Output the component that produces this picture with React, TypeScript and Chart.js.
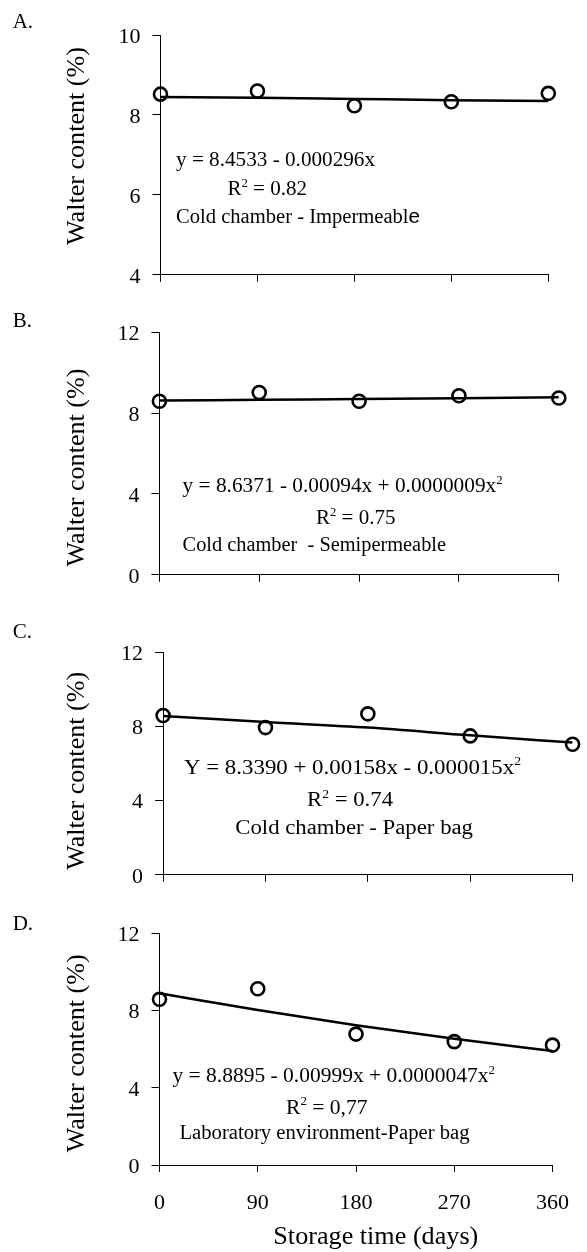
import React, { useEffect, useRef } from 'react';
import { Chart, registerables } from 'chart.js';

Chart.register(...registerables);

// ---------- data ----------
const days = [0, 90, 180, 270, 360];
const xTickLabels = ['0', '90', '180', '270', '360'];

const waterA = [8.52, 8.6, 8.23, 8.33, 8.54];
const fitA = [8.45, 8.43, 8.4, 8.37, 8.35];
const waterB = [8.59, 9.02, 8.59, 8.86, 8.75];
const fitB = [8.62, 8.66, 8.7, 8.74, 8.78];
const waterC = [8.59, 7.94, 8.68, 7.49, 7.04];
const fitC = [8.57, 8.24, 7.94, 7.52, 7.13];
const waterD = [8.58, 9.13, 6.78, 6.39, 6.21];
const fitD = [8.89, 8.03, 7.24, 6.54, 5.9];

const yTicksA = [4, 6, 8, 10];
const yTicksBCD = [0, 4, 8, 12];

const panelLabels = ['A.', 'B.', 'C.', 'D.'];
const yTitle = 'Walter content (%)';
const xTitle = 'Storage time (days)';

const eqA = 'y = 8.4533 - 0.000296x';
const eqB = 'y = 8.6371 - 0.00094x + 0.0000009x';
const eqC = 'Y = 8.3390 + 0.00158x - 0.000015x';
const eqD = 'y = 8.8895 - 0.00999x + 0.0000047x';
const r2A = ' = 0.82';
const r2B = ' = 0.75';
const r2C = ' = 0.74';
const r2D = ' = 0,77';
const capA = 'Cold chamber - Impermeabl';
const capB = 'Cold chamber  - Semipermeable';
const capC = 'Cold chamber - Paper bag';
const capD = 'Laboratory environment-Paper bag';

// ---------- styling / layout ----------
const SERIF = "'Liberation Serif', 'Times New Roman', serif";
const SANS = "'Liberation Sans', Arial, sans-serif";
const W = 587;
const Y_AXIS_W = 100;
const ANN_SIZE = 20;

type Seg = { t: string; sup?: boolean; sans?: boolean };
type Line = { segs: Seg[]; x: number; y: number; w: number };

type PanelCfg = {
  top: number; h: number;
  left: number; right: number; chartTop: number; chartBottom: number;
  yMin: number; yMax: number; yTicks: number[];
  water: number[]; fit: number[];
  showX: boolean; xAxisH: number;
  label: string; labelY: number;
  titleCY: number;
  lines: Line[];
};

const panels: PanelCfg[] = [
  {
    top: 0, h: 300, left: 160.5, right: 548.3, chartTop: 35, chartBottom: 283.3,
    yMin: 4, yMax: 10, yTicks: yTicksA, water: waterA, fit: fitA, showX: false, xAxisH: 15,
    label: panelLabels[0], labelY: 28.3, titleCY: 146,
    lines: [
      { segs: [{ t: eqA }], x: 176, y: 165.5, w: 199 },
      { segs: [{ t: 'R' }, { t: '2', sup: true }, { t: r2A }], x: 227.5, y: 195, w: 79.5 },
      { segs: [{ t: capA }, { t: 'e', sans: true }], x: 176, y: 222.7, w: 244 },
    ],
  },
  {
    top: 300, h: 300, left: 159.4, right: 558.8, chartTop: 332.3, chartBottom: 582.3,
    yMin: 0, yMax: 12, yTicks: yTicksBCD, water: waterB, fit: fitB, showX: false, xAxisH: 15,
    label: panelLabels[1], labelY: 326.7, titleCY: 467.5,
    lines: [
      { segs: [{ t: eqB }, { t: '2', sup: true }], x: 182.6, y: 492, w: 320 },
      { segs: [{ t: 'R' }, { t: '2', sup: true }, { t: r2B }], x: 316, y: 524, w: 79.6 },
      { segs: [{ t: capB }], x: 182.6, y: 551, w: 263.4 },
    ],
  },
  {
    top: 600, h: 300, left: 163.1, right: 572.6, chartTop: 652.3, chartBottom: 876.7,
    yMin: 0, yMax: 12, yTicks: yTicksBCD, water: waterC, fit: fitC, showX: false, xAxisH: 15,
    label: panelLabels[2], labelY: 638, titleCY: 770.8,
    lines: [
      { segs: [{ t: eqC }, { t: '2', sup: true }], x: 184, y: 773.5, w: 337 },
      { segs: [{ t: 'R' }, { t: '2', sup: true }, { t: r2C }], x: 307, y: 806, w: 86 },
      { segs: [{ t: capC }], x: 235.3, y: 834, w: 237.7 },
    ],
  },
  {
    top: 890, h: 362, left: 159.5, right: 563.6, chartTop: 933.3, chartBottom: 1165,
    yMin: 0, yMax: 12, yTicks: yTicksBCD, water: waterD, fit: fitD, showX: true, xAxisH: 62,
    label: panelLabels[3], labelY: 930, titleCY: 1053.3,
    lines: [
      { segs: [{ t: eqD }, { t: '2', sup: true }], x: 172.5, y: 1082, w: 322.5 },
      { segs: [{ t: 'R' }, { t: '2', sup: true }, { t: r2D }], x: 286, y: 1113.5, w: 81.5 },
      { segs: [{ t: capD }], x: 179.5, y: 1139, w: 290 },
    ],
  },
];

function segFont(s: Seg, size: number) {
  if (s.sans) return `${size}px ${SANS}`;
  if (s.sup) return `${Math.round(size * 0.62)}px ${SERIF}`;
  return `${size}px ${SERIF}`;
}

function drawLine(ctx: CanvasRenderingContext2D, line: Line, size: number, offY: number) {
  const widths = line.segs.map((s) => {
    ctx.font = segFont(s, size);
    return ctx.measureText(s.t).width;
  });
  const total = widths.reduce((a, b) => a + b, 0);
  const sx = line.w / total;
  ctx.save();
  ctx.translate(line.x, line.y - offY);
  ctx.scale(sx, 1);
  let cx = 0;
  line.segs.forEach((s, i) => {
    ctx.font = segFont(s, size);
    ctx.fillText(s.t, cx, s.sup ? -size * 0.42 : 0);
    cx += widths[i];
  });
  ctx.restore();
}

function makeTextPlugin(cfg: PanelCfg) {
  return {
    id: 'panelText',
    afterDraw(chart: any) {
      const ctx: CanvasRenderingContext2D = chart.ctx;
      const offY = cfg.top;
      ctx.save();
      ctx.fillStyle = '#000';
      ctx.textAlign = 'left';
      ctx.textBaseline = 'alphabetic';
      // panel label
      ctx.font = `21px ${SERIF}`;
      ctx.fillText(cfg.label, 12.7, cfg.labelY - offY);
      // annotation lines
      cfg.lines.forEach((l) => drawLine(ctx, l, ANN_SIZE, offY));
      // y title (rotated)
      ctx.font = `25px ${SERIF}`;
      const tw = ctx.measureText(yTitle).width;
      ctx.save();
      ctx.translate(84, cfg.titleCY - offY);
      ctx.rotate(-Math.PI / 2);
      ctx.scale(198 / tw, 1);
      ctx.textAlign = 'center';
      ctx.fillText(yTitle, 0, 0);
      ctx.restore();
      // x title
      if (cfg.showX) {
        ctx.font = `25px ${SERIF}`;
        const xw = ctx.measureText(xTitle).width;
        ctx.save();
        ctx.translate(273.3, 1244 - offY);
        ctx.scale(205 / xw, 1);
        ctx.fillText(xTitle, 0, 0);
        ctx.restore();
      }
      ctx.restore();
    },
  };
}

function Panel({ cfg }: { cfg: PanelCfg }) {
  const ref = useRef<HTMLCanvasElement>(null);
  useEffect(() => {
    const canvas = ref.current;
    if (!canvas) return;
    const pad = {
      left: cfg.left - Y_AXIS_W,
      right: W - cfg.right,
      top: cfg.chartTop - cfg.top,
      bottom: cfg.top + cfg.h - cfg.chartBottom - cfg.xAxisH,
    };
    const chart = new Chart(canvas, {
      type: 'scatter',
      data: {
        datasets: [
          {
            data: days.map((d, i) => ({ x: d, y: cfg.fit[i] })),
            showLine: true,
            borderColor: '#000',
            borderWidth: 2.5,
            pointRadius: 0,
            tension: 0.4,
            cubicInterpolationMode: 'monotone',
            fill: false,
          } as any,
          {
            data: days.map((d, i) => ({ x: d, y: cfg.water[i] })),
            showLine: false,
            pointStyle: 'circle',
            pointRadius: 6.5,
            pointBorderWidth: 2.6,
            pointBorderColor: '#000',
            pointBackgroundColor: 'rgba(0,0,0,0)',
            clip: false,
          } as any,
        ],
      },
      options: {
        animation: false,
        responsive: false,
        maintainAspectRatio: false,
        layout: { padding: pad },
        plugins: { legend: { display: false }, tooltip: { enabled: false } },
        scales: {
          x: {
            type: 'linear',
            min: 0,
            max: 360,
            afterBuildTicks: (s: any) => {
              s.ticks = days.map((v) => ({ value: v }));
            },
            ticks: {
              display: cfg.showX,
              color: '#000',
              font: { family: SERIF, size: 22 },
              padding: 18,
              maxRotation: 0,
              callback: (_v: any, i: number) => xTickLabels[i],
            },
            grid: { drawOnChartArea: false, drawTicks: true, tickLength: 7, color: '#000', lineWidth: 1 },
            border: { display: true, color: '#000', width: 1 },
            afterFit: (s: any) => {
              s.height = cfg.xAxisH;
            },
          },
          y: {
            type: 'linear',
            min: cfg.yMin,
            max: cfg.yMax,
            afterBuildTicks: (s: any) => {
              s.ticks = cfg.yTicks.map((v) => ({ value: v }));
            },
            ticks: {
              color: '#000',
              font: { family: SERIF, size: 22 },
              padding: 12,
              labelOffset: 2,
            },
            grid: { drawOnChartArea: false, drawTicks: true, tickLength: 8, color: '#000', lineWidth: 1 },
            border: { display: true, color: '#000', width: 1 },
            afterFit: (s: any) => {
              s.width = Y_AXIS_W;
            },
          },
        },
      } as any,
      plugins: [makeTextPlugin(cfg)],
    });
    return () => chart.destroy();
  }, [cfg]);
  return (
    <canvas
      ref={ref}
      width={W}
      height={cfg.h}
      style={{ position: 'absolute', left: 0, top: cfg.top, width: W, height: cfg.h }}
    />
  );
}

export default function App() {
  return (
    <div style={{ position: 'absolute', left: 0, top: 0, width: W, height: 1252, background: '#fff' }}>
      {panels.map((p, i) => (
        <Panel key={i} cfg={p} />
      ))}
    </div>
  );
}
